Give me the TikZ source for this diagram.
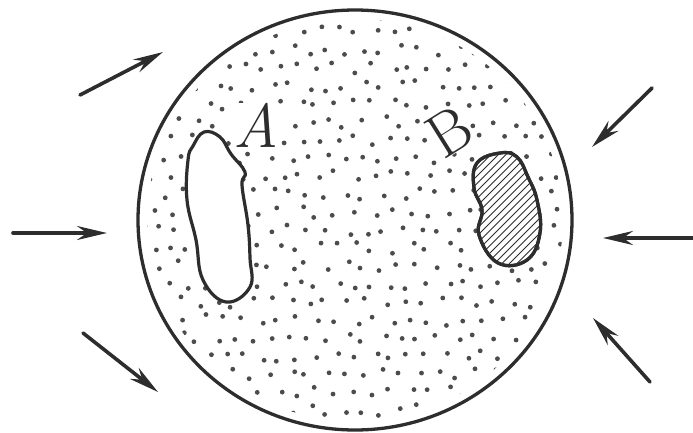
\documentclass[tikz,border=0pt]{standalone}
\usetikzlibrary{arrows.meta,shapes.geometric,calc}
\definecolor{ink}{RGB}{45,45,45}
\tikzset{
  ink line/.style={draw=ink, line width=3.3pt},
  force/.style={draw=ink, line width=3.6pt, line cap=round,
    -{Stealth[length=30pt,width=14pt,inset=10pt]}},
  blob/.style={draw=ink, line width=3.2pt, fill=white, line join=round},
  lab/.style={text=ink, font=\fontsize{62}{62}\selectfont, inner sep=0pt, fill=white},
  dotc/.style={fill=ink!85}
}
\begin{document}
\begin{tikzpicture}[x=1pt,y=-1pt]
\path[use as bounding box] (0,0) rectangle (693,433);
% cell
\fill[white] (355,220) ellipse [x radius=217pt, y radius=210pt];
\pgfmathsetseed{11}
\begin{scope}
  \clip (355,220) ellipse [x radius=208pt, y radius=201pt];
  \foreach \i in {0,...,23}{
    \foreach \j in {0,...,23}{
      \pgfmathsetmacro\px{142+\i*18.5+mod(\j,2)*9+5.5*rand}
      \pgfmathsetmacro\py{14+\j*18+5.5*rand}
      \fill[dotc] (\px,\py) circle (2.4pt);
    }}
\end{scope}
\node[ellipse, minimum width=434pt, minimum height=420pt, ink line, inner sep=0pt] (cell) at (355,220) {};
% labels
\node[lab] (la) at (256,125) {\textit{A}};
\node[lab, rotate=32] (lb) at (449,132) {B};
% vacuole A
\draw[blob] plot[smooth cycle, tension=0.7] coordinates {
  (204,132) (220,137) (231,154) (245,172) (242,185) (248,225) (250,258) (250,287)
  (226,302) (203,280) (196,240) (187,200) (188,160) (193,146) };
% inclusion B
\coordinate (bc) at (505,208);
\draw[blob] plot[smooth cycle, tension=0.7] coordinates {
  (500,153) (517,157) (528,177) (537,200) (540,233) (527,260) (498,263)
  (479,235) (482,210) (474,188) (477,163) };
\begin{scope}
  \clip plot[smooth cycle, tension=0.7] coordinates {
  (500,153) (517,157) (528,177) (537,200) (540,233) (527,260) (498,263)
  (479,235) (482,210) (474,188) (477,163) };
  \foreach \k in {-20,...,20}{
    \draw[ink, line width=0.9pt] ($(bc)+(\k*7.5-70,70)$) -- ++(140,-140);
  }
\end{scope}
\draw[draw=ink, line width=3.2pt] plot[smooth cycle, tension=0.7] coordinates {
  (500,153) (517,157) (528,177) (537,200) (540,233) (527,260) (498,263)
  (479,235) (482,210) (474,188) (477,163) };
% forces
\coordinate (a1s) at (80,95);   \coordinate (a1e) at (163,52);
\coordinate (a2s) at (13,233);  \coordinate (a2e) at (107,233);
\coordinate (a3s) at (83,333);  \coordinate (a3e) at (158,392);
\coordinate (a4s) at (652,88);  \coordinate (a4e) at (592,147);
\coordinate (a5s) at (693,238); \coordinate (a5e) at (603,238);
\coordinate (a6s) at (650,382); \coordinate (a6e) at (593,318);
\draw[force] (a1s) -- (a1e);
\draw[force] (a2s) -- (a2e);
\draw[force] (a3s) -- (a3e);
\draw[force] (a4s) -- (a4e);
\draw[force] (a5s) -- (a5e);
\draw[force] (a6s) -- (a6e);
\end{tikzpicture}
\end{document}
